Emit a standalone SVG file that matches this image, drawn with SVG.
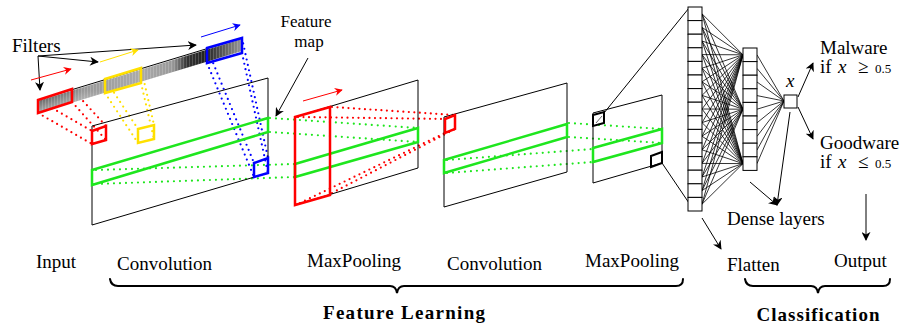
<svg xmlns="http://www.w3.org/2000/svg" width="905" height="326" viewBox="0 0 905 326">
<defs>
<style>
text{font-family:"Liberation Serif","DejaVu Serif",serif;font-size:19px;fill:#000}
.b{font-weight:bold}
.sm{font-size:17px}
.plane{fill:none;stroke:#000;stroke-width:1}
.red{fill:none;stroke:#ff0000;stroke-width:2.5;stroke-linejoin:miter}
.yel{fill:none;stroke:#ffe000;stroke-width:2.5}
.blu{fill:none;stroke:#0000ff;stroke-width:2.5}
.grn{fill:none;stroke:#1ee61e;stroke-width:2.5}
.blk{fill:none;stroke:#000;stroke-width:2}
.dr{stroke:#ff0000;stroke-width:2.2;stroke-dasharray:0 5.5;stroke-linecap:round;fill:none}
.dy{stroke:#ffe000;stroke-width:2.2;stroke-dasharray:0 5.5;stroke-linecap:round;fill:none}
.db{stroke:#0000ff;stroke-width:2.2;stroke-dasharray:0 5.5;stroke-linecap:round;fill:none}
.dg{stroke:#1ee61e;stroke-width:2.2;stroke-dasharray:0 6;stroke-linecap:round;fill:none}
.node{fill:#fff;stroke:#000;stroke-width:1}
.net line{stroke:#000;stroke-width:0.8}
.arr{stroke:#000;stroke-width:1;fill:none;marker-end:url(#ah)}
.brace{fill:none;stroke:#000;stroke-width:2;stroke-linecap:round}
</style>
<marker id="ah" viewBox="0 0 10 10" refX="9" refY="5" markerWidth="9" markerHeight="9" markerUnits="userSpaceOnUse" orient="auto">
<path d="M0,0 L10,5 L0,10 L3,5 Z" fill="#000"/>
</marker>
<marker id="ahr" viewBox="0 0 10 10" refX="9" refY="5" markerWidth="8" markerHeight="8" markerUnits="userSpaceOnUse" orient="auto">
<path d="M0,0 L10,5 L0,10 L3,5 Z" fill="#ff0000"/>
</marker>
<marker id="ahy" viewBox="0 0 10 10" refX="9" refY="5" markerWidth="8" markerHeight="8" markerUnits="userSpaceOnUse" orient="auto">
<path d="M0,0 L10,5 L0,10 L3,5 Z" fill="#ffe000"/>
</marker>
<marker id="ahb" viewBox="0 0 10 10" refX="9" refY="5" markerWidth="8" markerHeight="8" markerUnits="userSpaceOnUse" orient="auto">
<path d="M0,0 L10,5 L0,10 L3,5 Z" fill="#0000ff"/>
</marker>
<linearGradient id="strip" gradientUnits="userSpaceOnUse" x1="38" y1="0" x2="242" y2="0">
<stop offset="0" stop-color="#333"/>
<stop offset="0.1" stop-color="#666"/>
<stop offset="0.22" stop-color="#999"/>
<stop offset="0.5" stop-color="#aaa"/>
<stop offset="0.66" stop-color="#999"/>
<stop offset="0.73" stop-color="#333"/>
<stop offset="0.82" stop-color="#222"/>
<stop offset="0.9" stop-color="#555"/>
<stop offset="1" stop-color="#999"/>
</linearGradient>
<linearGradient id="fade" gradientUnits="objectBoundingBox" x1="0" y1="0" x2="0" y2="1">
<stop offset="0" stop-color="#fff" stop-opacity="0"/>
<stop offset="0.7" stop-color="#fff" stop-opacity="0"/>
<stop offset="1" stop-color="#fff" stop-opacity="0.6"/>
</linearGradient>
<pattern id="stripes" patternUnits="userSpaceOnUse" width="3" height="10">
<rect x="0" y="0" width="1" height="10" fill="#fff" opacity="0.18"/>
</pattern>
</defs>
<rect width="905" height="326" fill="#fff"/>

<g id="connectors">
<!-- red dots input -> conv1 -->
<line class="dr" x1="38" y1="100" x2="92" y2="131"/>
<line class="dr" x1="72" y1="89" x2="106" y2="126"/>
<line class="dr" x1="72" y1="102" x2="106" y2="140"/>
<line class="dr" x1="38" y1="113" x2="92" y2="144"/>
<!-- yellow dots -->
<line class="dy" x1="105" y1="79" x2="138" y2="129"/>
<line class="dy" x1="141" y1="68" x2="154" y2="125"/>
<line class="dy" x1="141" y1="83" x2="154" y2="139"/>
<line class="dy" x1="105" y1="93" x2="138" y2="143"/>
<!-- blue dots -->
<line class="db" x1="207" y1="48" x2="254" y2="163"/>
<line class="db" x1="242" y1="38" x2="268" y2="158"/>
<line class="db" x1="242" y1="53" x2="268" y2="173"/>
<line class="db" x1="207" y1="63" x2="254" y2="177"/>
<!-- green dots conv1 -> pool1 -->
<line class="dg" x1="270" y1="118" x2="418" y2="128"/>
<line class="dg" x1="270" y1="132" x2="418" y2="142"/>
<line class="dg" x1="96" y1="170" x2="295" y2="164"/>
<line class="dg" x1="96" y1="184" x2="295" y2="177"/>
<!-- red dots pool1 -> conv2 -->
<line class="dr" x1="298" y1="117" x2="445" y2="119"/>
<line class="dr" x1="332" y1="107" x2="455" y2="115"/>
<line class="dr" x1="300" y1="203" x2="445" y2="133"/>
<line class="dr" x1="332" y1="193" x2="455" y2="129"/>
<!-- green dots conv2 -> pool2 -->
<line class="dg" x1="569" y1="123" x2="662" y2="129"/>
<line class="dg" x1="569" y1="137" x2="662" y2="143"/>
<line class="dg" x1="447" y1="160" x2="593" y2="149"/>
<line class="dg" x1="447" y1="173" x2="593" y2="162"/>
<!-- pool2 -> flatten -->
<line x1="604" y1="113" x2="689" y2="8" stroke="#000" stroke-width="1"/>
<line x1="662" y1="163" x2="689" y2="203" stroke="#000" stroke-width="1"/>
<!-- flatten -> dense -->
<g class="net">
<line x1="702" y1="13.8" x2="743" y2="54.8"/><line x1="702" y1="13.8" x2="743" y2="109.2"/><line x1="702" y1="13.8" x2="743" y2="163.6"/>
<line x1="702" y1="27.4" x2="743" y2="54.8"/><line x1="702" y1="27.4" x2="743" y2="109.2"/><line x1="702" y1="27.4" x2="743" y2="163.6"/>
<line x1="702" y1="41" x2="743" y2="54.8"/><line x1="702" y1="41" x2="743" y2="109.2"/><line x1="702" y1="41" x2="743" y2="163.6"/>
<line x1="702" y1="54.6" x2="743" y2="54.8"/><line x1="702" y1="54.6" x2="743" y2="109.2"/><line x1="702" y1="54.6" x2="743" y2="163.6"/>
<line x1="702" y1="68.2" x2="743" y2="54.8"/><line x1="702" y1="68.2" x2="743" y2="109.2"/><line x1="702" y1="68.2" x2="743" y2="163.6"/>
<line x1="702" y1="81.8" x2="743" y2="54.8"/><line x1="702" y1="81.8" x2="743" y2="109.2"/><line x1="702" y1="81.8" x2="743" y2="163.6"/>
<line x1="702" y1="95.4" x2="743" y2="54.8"/><line x1="702" y1="95.4" x2="743" y2="109.2"/><line x1="702" y1="95.4" x2="743" y2="163.6"/>
<line x1="702" y1="109" x2="743" y2="54.8"/><line x1="702" y1="109" x2="743" y2="109.2"/><line x1="702" y1="109" x2="743" y2="163.6"/>
<line x1="702" y1="122.6" x2="743" y2="54.8"/><line x1="702" y1="122.6" x2="743" y2="109.2"/><line x1="702" y1="122.6" x2="743" y2="163.6"/>
<line x1="702" y1="136.2" x2="743" y2="54.8"/><line x1="702" y1="136.2" x2="743" y2="109.2"/><line x1="702" y1="136.2" x2="743" y2="163.6"/>
<line x1="702" y1="149.8" x2="743" y2="54.8"/><line x1="702" y1="149.8" x2="743" y2="109.2"/><line x1="702" y1="149.8" x2="743" y2="163.6"/>
<line x1="702" y1="163.4" x2="743" y2="54.8"/><line x1="702" y1="163.4" x2="743" y2="109.2"/><line x1="702" y1="163.4" x2="743" y2="163.6"/>
<line x1="702" y1="177" x2="743" y2="54.8"/><line x1="702" y1="177" x2="743" y2="109.2"/><line x1="702" y1="177" x2="743" y2="163.6"/>
<line x1="702" y1="190.6" x2="743" y2="54.8"/><line x1="702" y1="190.6" x2="743" y2="109.2"/><line x1="702" y1="190.6" x2="743" y2="163.6"/>
<line x1="702" y1="204.2" x2="743" y2="54.8"/><line x1="702" y1="204.2" x2="743" y2="109.2"/><line x1="702" y1="204.2" x2="743" y2="163.6"/>
<!-- dense -> output -->
<line x1="757" y1="54.8" x2="784" y2="101"/><line x1="757" y1="68.4" x2="784" y2="101"/><line x1="757" y1="82" x2="784" y2="101"/>
<line x1="757" y1="95.6" x2="784" y2="101"/><line x1="757" y1="109.2" x2="784" y2="101"/><line x1="757" y1="122.8" x2="784" y2="101"/>
<line x1="757" y1="136.4" x2="784" y2="101"/><line x1="757" y1="150" x2="784" y2="101"/><line x1="757" y1="163.6" x2="784" y2="101"/>
</g>
<!-- output arrows -->
<line class="arr" x1="798" y1="97" x2="813" y2="63"/>
<line class="arr" x1="798" y1="107" x2="813" y2="139"/>
<!-- annotation arrows -->
<line class="arr" x1="38" y1="56" x2="40" y2="90"/>
<line class="arr" x1="38" y1="56" x2="98" y2="62"/>
<line class="arr" x1="38" y1="56" x2="196" y2="45"/>
<line class="arr" x1="308" y1="58" x2="276" y2="116"/>
<line class="arr" x1="750" y1="182" x2="777" y2="205"/>
<line class="arr" x1="790" y1="112" x2="777" y2="205"/>
<line class="arr" x1="702" y1="218" x2="721" y2="249"/>
<line class="arr" x1="866" y1="194" x2="866" y2="240"/>
<!-- colored motion arrows -->
<line x1="31" y1="80" x2="71" y2="69" stroke="#ff0000" stroke-width="1" marker-end="url(#ahr)"/>
<line x1="100" y1="62" x2="138" y2="50" stroke="#ffe000" stroke-width="1" marker-end="url(#ahy)"/>
<line x1="201" y1="37" x2="240" y2="25" stroke="#0000ff" stroke-width="1" marker-end="url(#ahb)"/>
<line x1="303" y1="101" x2="342" y2="90" stroke="#ff0000" stroke-width="1" marker-end="url(#ahr)"/>
</g>

<g id="input">
<polygon points="38,101 242,39 242,51 38,113" fill="url(#strip)"/>
<polygon points="38,101 242,39 242,51 38,113" fill="url(#stripes)"/>
<polygon points="38,101 242,39 242,51 38,113" fill="url(#fade)"/>
<line x1="38" y1="100" x2="242" y2="38" stroke="#000" stroke-width="1"/>
<polygon class="red" points="38,100 72,89 72,102 38,113"/>
<polygon class="yel" points="105,79 141,68 141,83 105,93"/>
<polygon class="blu" points="207,48 242,38 242,53 207,63"/>
</g>

<g id="conv1">
<polygon class="plane" points="92,126 268,78 268,173 92,225"/>
<polygon class="grn" points="92,170 268,118 268,132 92,185"/>
<polygon class="red" points="92,131 106,126 106,140 92,144"/>
<polygon class="yel" points="138,129 154,125 154,139 138,143"/>
<polygon class="blu" points="254,163 268,158 268,173 254,177"/>
</g>

<g id="pool1">
<polygon class="plane" points="295,117 418,80 418,168 295,205"/>
<polygon class="grn" points="295,164 418,128 418,142 295,177"/>
<polygon class="red" points="295,117 330,107 330,195 295,205"/>
</g>

<g id="conv2">
<polygon class="plane" points="444,117 567,83 567,172 444,207"/>
<polygon class="grn" points="444,160 567,124 567,137 444,173"/>
<polygon class="red" points="445,119 455,115 455,129 445,133"/>
</g>

<g id="pool2">
<polygon class="plane" points="593,113 662,95 662,163 593,183"/>
<polygon class="grn" points="593,148 662,129 662,143 593,162"/>
<polygon class="blk" points="593,115 604,112 604,123 593,126"/>
<line x1="596" y1="123" x2="602" y2="116" stroke="#000" stroke-width="0.6"/>
<polygon class="blk" points="651,156 662,152 662,163 651,167"/>
</g>

<g id="flatten">
<rect class="node" x="688" y="7" width="14" height="13.6"/>
<rect class="node" x="688" y="20.6" width="14" height="13.6"/>
<rect class="node" x="688" y="34.2" width="14" height="13.6"/>
<rect class="node" x="688" y="47.8" width="14" height="13.6"/>
<rect class="node" x="688" y="61.4" width="14" height="13.6"/>
<rect class="node" x="688" y="75" width="14" height="13.6"/>
<rect class="node" x="688" y="88.6" width="14" height="13.6"/>
<rect class="node" x="688" y="102.2" width="14" height="13.6"/>
<rect class="node" x="688" y="115.8" width="14" height="13.6"/>
<rect class="node" x="688" y="129.4" width="14" height="13.6"/>
<rect class="node" x="688" y="143" width="14" height="13.6"/>
<rect class="node" x="688" y="156.6" width="14" height="13.6"/>
<rect class="node" x="688" y="170.2" width="14" height="13.6"/>
<rect class="node" x="688" y="183.8" width="14" height="13.6"/>
<rect class="node" x="688" y="197.4" width="14" height="13.6"/>
</g>

<g id="dense">
<rect class="node" x="743" y="48" width="14" height="13.6"/>
<rect class="node" x="743" y="61.6" width="14" height="13.6"/>
<rect class="node" x="743" y="75.2" width="14" height="13.6"/>
<rect class="node" x="743" y="88.8" width="14" height="13.6"/>
<rect class="node" x="743" y="102.4" width="14" height="13.6"/>
<rect class="node" x="743" y="116" width="14" height="13.6"/>
<rect class="node" x="743" y="129.6" width="14" height="13.6"/>
<rect class="node" x="743" y="143.2" width="14" height="13.6"/>
<rect class="node" x="743" y="156.8" width="14" height="13.6"/>
</g>

<g id="output">
<rect class="node" x="784" y="95" width="13" height="13"/>
<text x="786" y="87" font-style="italic">x</text>
</g>

<g id="labels">
<text x="12" y="52">Filters</text>
<text class="sm" x="306" y="27" text-anchor="middle">Feature</text>
<text class="sm" x="309" y="46.5" text-anchor="middle">map</text>
<text x="820" y="54">Malware</text>
<text x="820" y="73">if <tspan x="838" font-style="italic">x</tspan><tspan x="858">≥</tspan><tspan x="875" font-size="13">0.5</tspan></text>
<text x="820" y="149">Goodware</text>
<text x="820" y="168">if <tspan x="838" font-style="italic">x</tspan><tspan x="858">≤</tspan><tspan x="875" font-size="13">0.5</tspan></text>
<text x="727" y="225">Dense layers</text>
<text x="36" y="268">Input</text>
<text x="117" y="270">Convolution</text>
<text x="307" y="267">MaxPooling</text>
<text x="447" y="270">Convolution</text>
<text x="585" y="267">MaxPooling</text>
<text x="727" y="271">Flatten</text>
<text x="834" y="267">Output</text>
<path class="brace" d="M110,279 Q111,286 118,286 L390,286 Q396,286 397,293 Q398,286 404,286 L676,286 Q683,286 683,279"/>
<path class="brace" d="M745,279 Q746,286 753,286 L811,286 Q817,286 818,293 Q819,286 825,286 L883,286 Q890,286 890,279"/>
<text class="b" x="404" y="319" text-anchor="middle" textLength="162" lengthAdjust="spacing">Feature Learning</text>
<text class="b" x="818" y="321" text-anchor="middle" textLength="123" lengthAdjust="spacing">Classification</text>
</g>
</svg>
